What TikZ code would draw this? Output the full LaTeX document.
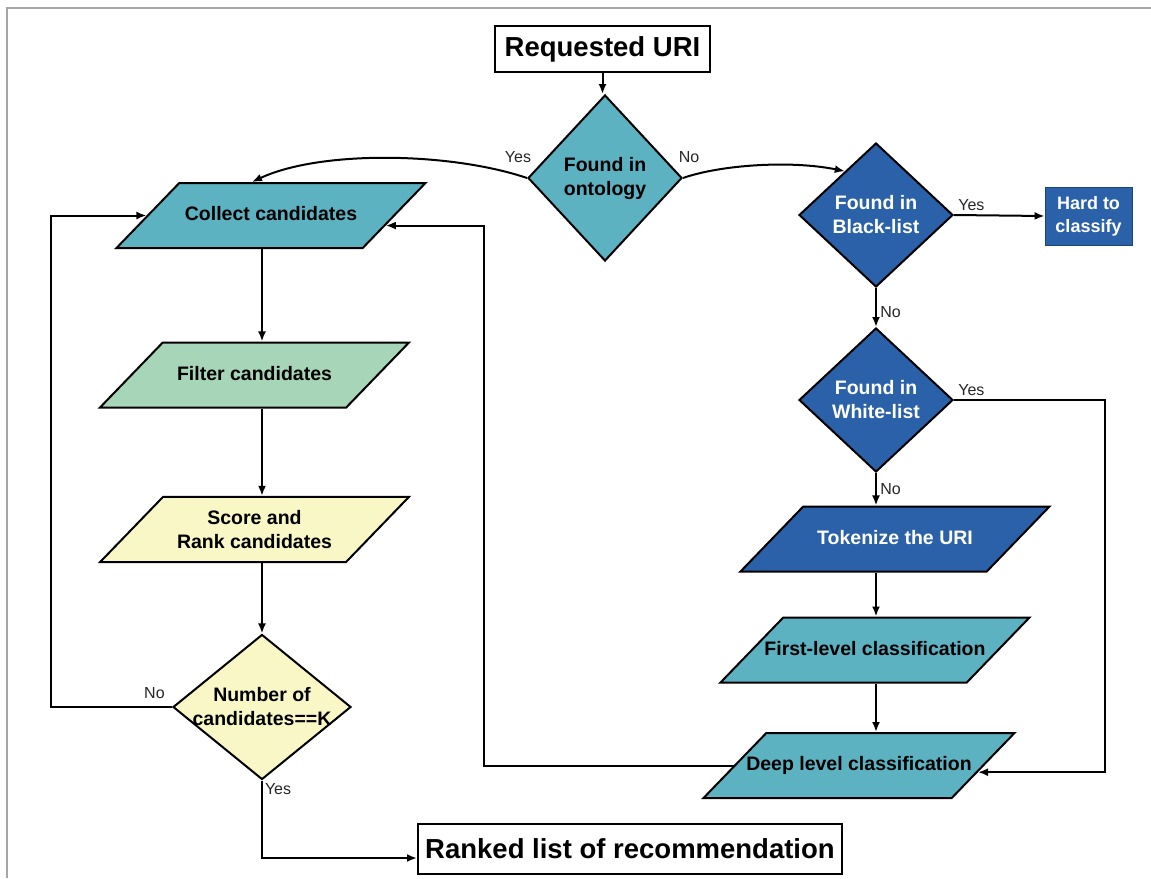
\documentclass[tikz,border=0pt]{standalone}
\usepackage{fontspec}
\setmainfont{Liberation Sans}
\usepackage{xcolor}
\usetikzlibrary{shapes.geometric,calc,arrows.meta}
\definecolor{flowteal}{RGB}{93,178,194}
\definecolor{flowblue}{RGB}{42,97,168}
\definecolor{flowgreen}{RGB}{166,214,183}
\definecolor{flowyellow}{RGB}{250,247,198}

\begin{document}
\begin{tikzpicture}[x=1pt,y=-1pt,line width=2pt,>={Latex[length=10pt,width=8pt]},
  para/.style={trapezium,trapezium left angle=46,trapezium right angle=134,trapezium stretches body,
    minimum width=309pt,text height=14pt,text depth=4pt,inner xsep=-20pt,inner ysep=23.5pt,draw,align=center,
    font=\fontsize{19.5}{24}\selectfont\bfseries},
  dec/.style={diamond,draw,inner sep=-8pt,align=center,font=\fontsize{19.5}{24}\selectfont\bfseries},
  term/.style={rectangle,draw,line width=2pt,font=\fontsize{27.5}{30}\selectfont\bfseries},
  lbl/.style={font=\fontsize{16}{18}\selectfont,text=black!85}]
\useasboundingbox (0,0) rectangle (1151,878);
\draw[gray!70,line width=1.2pt] (1151,8) -- (7,8) -- (7,878);

% left column
\node[term,minimum width=215pt,minimum height=46pt] (req) at (602.5,49) {Requested URI};
\node[dec,fill=flowteal,minimum width=154pt,minimum height=166pt] (ont) at (605,178) {Found in\\ontology};
\node[para,fill=flowteal] (col) at (271,215.5) {Collect candidates};
\node[para,fill=flowgreen] (fil) at (254.5,375) {Filter candidates};
\node[para,fill=flowyellow,text height=,text depth=,inner ysep=13.5pt] (scr) at (254.5,529.5) {Score and\\Rank candidates};
\node[dec,fill=flowyellow,minimum width=178pt,minimum height=145pt] (num) at (262,707) {Number of\\candidates==K};
\node[term,minimum width=424pt,minimum height=50pt] (rnk) at (630,849) {Ranked list of recommendation};

% right column
\node[dec,fill=flowblue,text=white,minimum width=154pt,minimum height=144pt] (blk) at (876,215) {Found in\\Black-list};
\node[rectangle,fill=flowblue,draw=flowblue!70!black,line width=0.8pt,text=white,align=center,
  minimum width=87pt,minimum height=58pt,font=\fontsize{18}{23}\selectfont\bfseries] (hard) at (1088.5,216) {Hard to\\classify};
\node[dec,fill=flowblue,text=white,minimum width=154pt,minimum height=144pt] (wht) at (876,400) {Found in\\White-list};
\node[para,fill=flowblue,text=white] (tok) at (895,539) {Tokenize the URI};
\node[para,fill=flowteal] (fst) at (875,650) {First-level classification};
\node[para,fill=flowteal] (deep) at (859,765.5) {Deep level classification};

\coordinate (cr) at ($(col.top right corner)!0.65!(col.bottom right corner)$);
\coordinate (dr) at ($(deep.top right corner)!0.6!(deep.bottom right corner)$);
\coordinate (bl) at ($(blk.north)!0.4!(blk.west)$);

\draw[->] (req.south) -- (req.south |- ont.north);
\draw[->] (ont.west) node[lbl,above,xshift=-9pt,yshift=11pt] {Yes}
  .. controls (450,152) and (320,150) .. ([xshift=-19pt]col.north);
\draw[->] (ont.east) node[lbl,above,xshift=6pt,yshift=11pt] {No}
  .. controls (720,165) and (790,160) .. (bl);
\draw[->] (col.south -| num) -- (fil.north -| num);
\draw[->] (fil.south -| num) -- (scr.north -| num);
\draw[->] (scr.south -| num) -- (num.north);
\draw[->] (num.west) node[lbl,above left,xshift=-3pt,yshift=4pt] {No} -- ++(-121,0) |- (col.west);
\draw[->] (num.south) node[lbl,below right,inner sep=2pt] {Yes} |- ([yshift=-9pt]rnk.west);

\draw[->] (blk.east) node[lbl,above right] {Yes} -- (hard.west);
\draw[->] (blk.south) -- (wht.north) node[lbl,midway,right,yshift=-5pt] {No};
\draw[->] (wht.east) node[lbl,above right] {Yes} -- ++(151,0) |- (dr);
\draw[->] (wht.south) -- (tok.north -| wht) node[lbl,midway,right] {No};
\draw[->] (tok.south -| wht) -- (fst.north -| wht);
\draw[->] (fst.south -| wht) -- (deep.north -| wht);
\draw[->] (deep.west) -- ++(-250,0) |- (cr);
\end{tikzpicture}
\end{document}
